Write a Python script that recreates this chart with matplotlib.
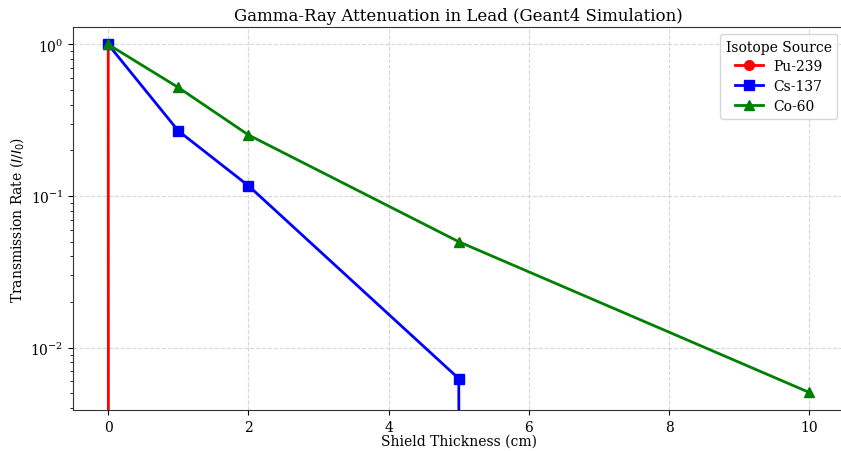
import numpy as np
import matplotlib.pyplot as plt

plt.rcParams['font.family'] = 'DejaVu Serif'

thickness = [0, 1, 2, 5, 10]
pu239 = [1.0, 0.0, 0.0, 0.0, 0.0]
cs137 = [1.0, 0.269, 0.117, 0.00626, 0.0]
co60 = [1.0, 0.52, 0.253, 0.050, 0.00507]

fig = plt.figure(figsize=(8.41, 4.52), dpi=100)
ax = fig.add_axes([0.087, 0.091, 0.917, 0.847])

ax.plot(thickness, pu239, 'o-', color='red', lw=2, ms=7, label='Pu-239')
ax.plot(thickness, cs137, 's-', color='blue', lw=2, ms=7, label='Cs-137')
ax.plot(thickness, co60, '^-', color='green', lw=2, ms=7, label='Co-60')

ax.set_yscale('log')
ax.set_title('Gamma-Ray Attenuation in Lead (Geant4 Simulation)', fontsize=12, pad=5)
ax.set_xlabel('Shield Thickness (cm)', fontsize=10, labelpad=0)
ax.set_ylabel('Transmission Rate ($I/I_0$)', fontsize=10, labelpad=3)
ax.grid(True, which='major', linestyle='--', alpha=0.5)
for s in ax.spines.values():
    s.set_color('#333333')
ax.legend(title='Isotope Source', loc='upper right', fontsize=10, title_fontsize=10,
          labelspacing=0.42, borderaxespad=0.5)

fig.savefig('out.png', dpi=100)
